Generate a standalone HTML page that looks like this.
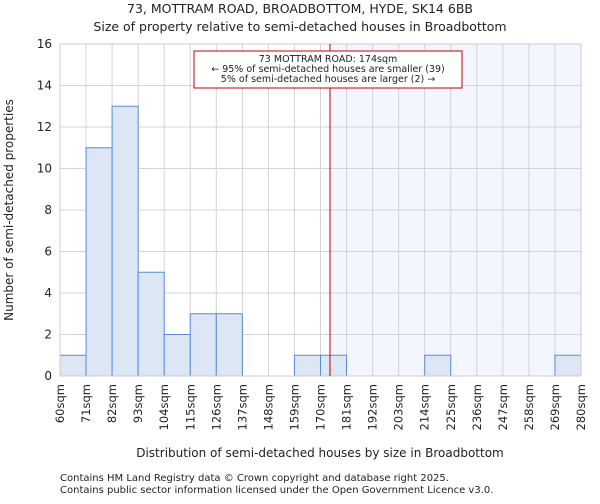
<!DOCTYPE html>
<html><head><meta charset="utf-8"><style>
body{margin:0;background:#fff;font-family:"DejaVu Sans","Liberation Sans",sans-serif}
svg text{font-family:"DejaVu Sans","Liberation Sans",sans-serif;fill:#222}
</style></head><body>
<svg id="c" width="600" height="500">
<text x="300" y="13" font-size="12.5" text-anchor="middle">73, MOTTRAM ROAD, BROADBOTTOM, HYDE, SK14 6BB</text>
<text x="300" y="31" font-size="12.5" text-anchor="middle">Size of property relative to semi-detached houses in Broadbottom</text>
<text x="320" y="457" font-size="12" text-anchor="middle">Distribution of semi-detached houses by size in Broadbottom</text>
<text transform="translate(13,210) rotate(-90)" font-size="12" text-anchor="middle">Number of semi-detached properties</text>
<text x="60" y="481" font-size="10">Contains HM Land Registry data © Crown copyright and database right 2025.</text>
<text x="60" y="493" font-size="10">Contains public sector information licensed under the Open Government Licence v3.0.</text>
<g id="plot"></g>
</svg>
<script>
const binStarts=[60,71,82,93,104,115,126,137,148,159,170,181,192,203,214,225,236,247,258,269];
const counts=[1,11,13,5,2,3,3,0,0,1,1,0,0,0,1,0,0,0,0,1];
const xTickLabels=["60sqm","71sqm","82sqm","93sqm","104sqm","115sqm","126sqm","137sqm","148sqm","159sqm","170sqm","181sqm","192sqm","203sqm","214sqm","225sqm","236sqm","247sqm","258sqm","269sqm","280sqm"];
const yTicks=[0,2,4,6,8,10,12,14,16];
const subjectSize=174;
const X0=60,X1=581,Y0=376,Y1=44,xmin=60,xmax=280,ymax=16;
const xs=v=>X0+(v-xmin)/(xmax-xmin)*(X1-X0);
const ys=v=>Y0-v/ymax*(Y0-Y1);
const ns="http://www.w3.org/2000/svg",g=document.getElementById('plot');
function mk(t,a,p){const e=document.createElementNS(ns,t);for(const k in a)e.setAttribute(k,a[k]);(p||g).appendChild(e);return e;}
let e;
e=mk('rect',{x:xs(subjectSize),y:Y1,width:X1-xs(subjectSize),height:Y0-Y1,fill:'#f3f6fe'});


xTickLabels.forEach((l,i)=>{const v=xmin+i*11;const x=xs(v);
e=mk('line',{x1:x,x2:x,y1:Y1,y2:Y0,stroke:'#d4d4d4','stroke-width':1});


e=mk('text',{transform:`translate(${x+4},${Y0+8}) rotate(-90)`,'font-size':'11.5','text-anchor':'end'});e.textContent=l;

});
yTicks.forEach(v=>{const y=ys(v);
e=mk('line',{x1:X0,x2:X1,y1:y,y2:y,stroke:'#d4d4d4','stroke-width':1});


e=mk('text',{x:X0-8,y:y+4,'font-size':'12','text-anchor':'end'});e.textContent=v;

});
counts.forEach((c,i)=>{if(!c)return;const a=xs(binStarts[i]),b=xs(binStarts[i]+11);
e=mk('rect',{x:a,y:ys(c),width:b-a,height:Y0-ys(c),fill:'#dce6f5',stroke:'#5b8ad6','stroke-width':1});

});
e=mk('rect',{x:X0,y:Y1,width:X1-X0,height:Y0-Y1,fill:'none',stroke:'#cccccc','stroke-width':1});


e=mk('line',{x1:xs(subjectSize),x2:xs(subjectSize),y1:Y1,y2:Y0,stroke:'#c00000','stroke-width':1});


e=mk('rect',{x:194,y:51,width:268,height:37,fill:'#fff',stroke:'#c00000','stroke-width':1});


[["73 MOTTRAM ROAD: 174sqm",62],["← 95% of semi-detached houses are smaller (39)",72],["5% of semi-detached houses are larger (2) →",82]].forEach(([t,y])=>{
e=mk('text',{x:328,y:y,'font-size':'9.5','text-anchor':'middle'});e.textContent=t;

});
</script>
</body></html>
